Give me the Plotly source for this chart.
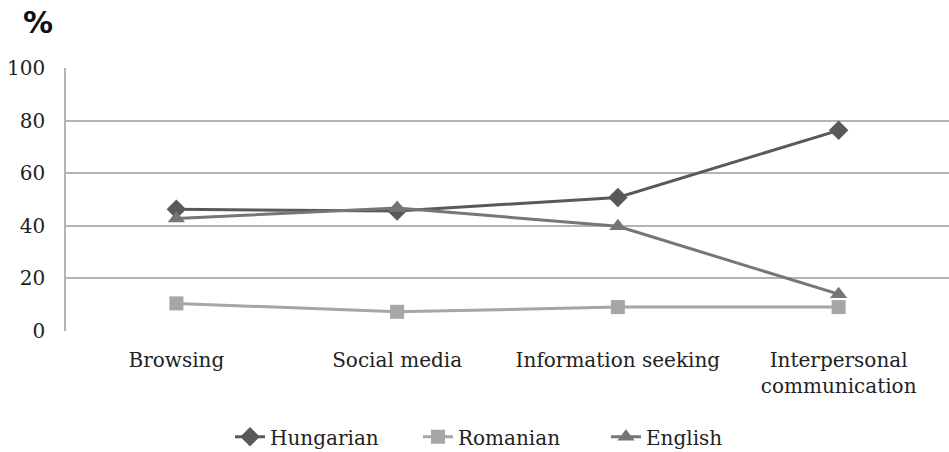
import plotly.graph_objects as go

categories = ["Browsing", "Social media", "Information seeking", "Interpersonal<br>communication"]
hungarian = [46.3, 45.6, 50.8, 76.3]
romanian = [10.5, 7.3, 9.1, 9.1]
english = [42.8, 46.8, 39.8, 14.0]
y_ticks = [0, 20, 40, 60, 80, 100]

font_family = "DejaVu Serif"

fig = go.Figure()
fig.add_trace(go.Scatter(x=categories, y=hungarian, name="Hungarian", mode="lines+markers",
                         line=dict(color="#595959", width=3),
                         marker=dict(symbol="diamond", size=15, color="#595959")))
fig.add_trace(go.Scatter(x=categories, y=romanian, name="Romanian", mode="lines+markers",
                         line=dict(color="#a6a6a6", width=3),
                         marker=dict(symbol="square", size=14, color="#a6a6a6")))
fig.add_trace(go.Scatter(x=categories, y=english, name="English", mode="lines+markers",
                         line=dict(color="#767676", width=3),
                         marker=dict(symbol="triangle-up", size=15, color="#767676")))

fig.update_layout(
    width=949, height=452,
    margin=dict(l=66, r=0, t=68, b=121, autoexpand=False),
    paper_bgcolor="white", plot_bgcolor="white",
    font=dict(family=font_family, size=20, color="#222222"),
    showlegend=True,
    legend=dict(orientation="h", x=(512 - 66) / 883, xanchor="center", y=-0.328, yanchor="top",
                font=dict(size=20), tracegroupgap=0, entrywidth=143),
    annotations=[dict(text="<b>%</b>", xref="paper", yref="paper",
                      x=(38 - 66) / 883, y=1 + (68 - 22) / 263,
                      xanchor="center", yanchor="middle",
                      showarrow=False, font=dict(family="DejaVu Sans", size=30, color="#111"))],
)

fig.update_xaxes(type="category", range=[-0.5, 3.5], showgrid=False, showline=False,
                 ticks="", ticklabelstandoff=15, automargin=False)
fig.update_yaxes(range=[0, 100], tickvals=y_ticks, showgrid=True, gridcolor="#b3b3b3",
                 gridwidth=1.5, showline=True, linecolor="#b3b3b3", linewidth=1.5,
                 zeroline=False, ticks="", ticklabelstandoff=15, automargin=False)

fig.write_html("out.html", config={"displayModeBar": False},
               post_script="document.body.style.margin='0';document.body.style.overflow='hidden';")
